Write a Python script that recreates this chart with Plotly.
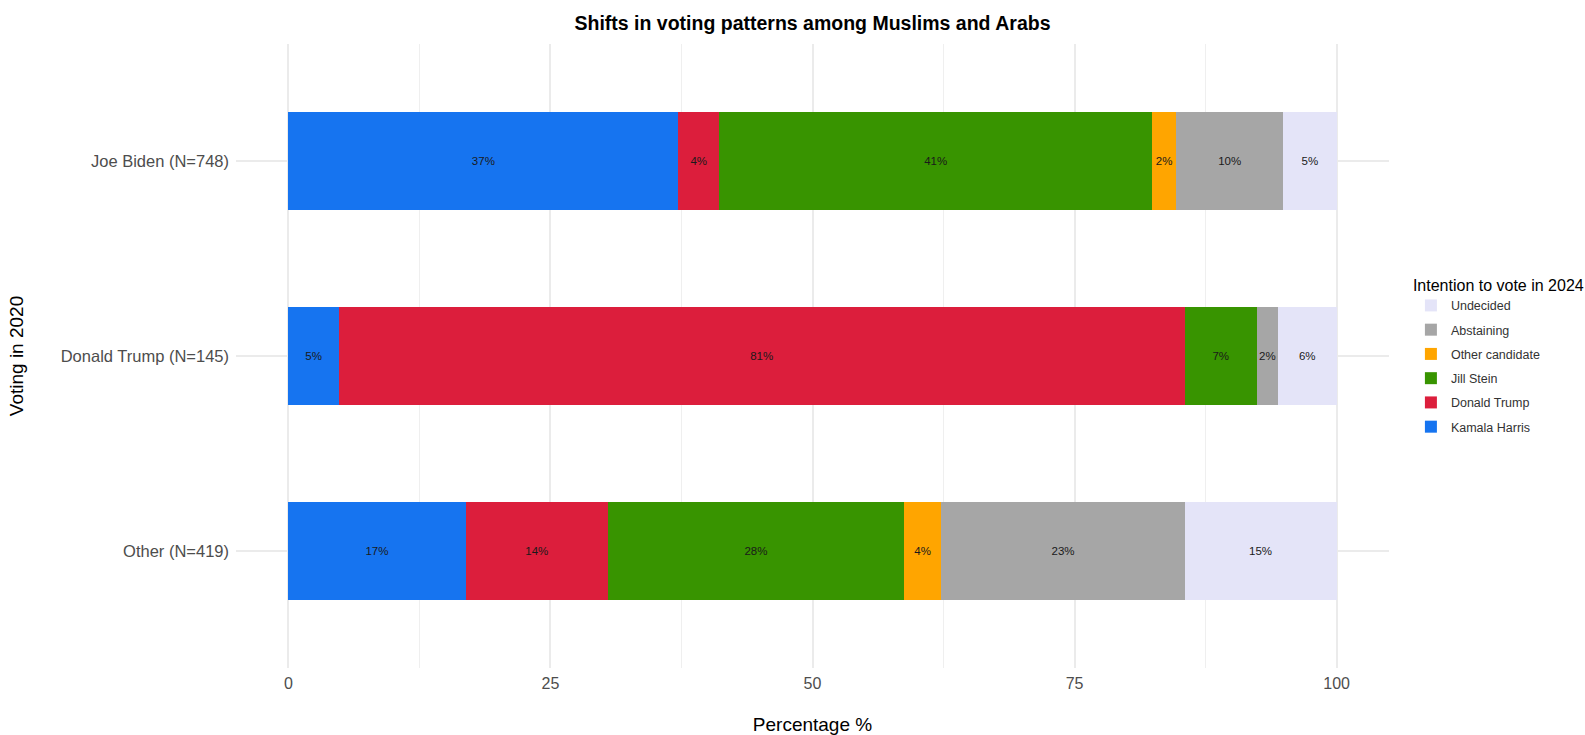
import plotly.graph_objects as go

# Vote in 2020 (rows, top to bottom)
categories = ["Joe Biden (N=748)", "Donald Trump (N=145)", "Other (N=419)"]

# Share (%) of each 2020 group by 2024 intention
kamala_harris = [37.2, 4.8, 16.9]
donald_trump = [3.9, 80.7, 13.6]
jill_stein = [41.3, 6.9, 28.2]
other_candidate = [2.3, None, 3.6]
abstaining = [10.2, 2.0, 23.2]
undecided = [5.1, 5.6, 14.5]

series_names = ["Kamala Harris", "Donald Trump", "Jill Stein",
                "Other candidate", "Abstaining", "Undecided"]
series_values = [kamala_harris, donald_trump, jill_stein,
                 other_candidate, abstaining, undecided]
series_colors = ["#1674F0", "#DC1E3C", "#389400", "#FFA500", "#A6A6A6", "#E4E4F8"]

x_ticks = [0, 25, 50, 75, 100]

FONT = "Liberation Sans, Arial, Helvetica, sans-serif"
FIG_H = 735

fig = go.Figure()
n_series = len(series_names)
for i, (name, vals, col) in enumerate(zip(series_names, series_values, series_colors)):
    fig.add_trace(go.Bar(
        y=categories,
        x=vals,
        name=name,
        orientation="h",
        width=0.5,
        marker=dict(color=col, line=dict(width=0)),
        texttemplate="%{x:.0f}%",
        textposition="inside",
        insidetextanchor="middle",
        textangle=0,
        constraintext="none",
        textfont=dict(family=FONT, size=11.5, color="#1a1a1a"),
        legendgroup=name,
        # last stacked segment listed first in the legend
        legendrank=n_series - i,
    ))

fig.update_layout(
    width=1585,
    height=FIG_H,
    barmode="stack",
    paper_bgcolor="white",
    plot_bgcolor="white",
    margin=dict(l=236, r=196, t=44, b=67, autoexpand=False),
    font=dict(family=FONT, color="#4d4d4d"),
    title=dict(
        text="<b>Shifts in voting patterns among Muslims and Arabs</b>",
        x=0.5, xref="paper", xanchor="center",
        y=1 - 23 / FIG_H, yref="container", yanchor="middle",
        font=dict(family=FONT, size=19.5, color="black"),
    ),
    xaxis=dict(
        range=[-5, 105],
        tickvals=x_ticks,
        ticktext=[str(t) for t in x_ticks],
        showgrid=True,
        gridcolor="#ebebeb",
        gridwidth=1.5,
        minor=dict(showgrid=True, gridcolor="#efefef", gridwidth=1, dtick=12.5, tick0=12.5),
        zeroline=False,
        showline=False,
        ticks="",
        tickfont=dict(family=FONT, size=16, color="#4d4d4d"),
        ticklabelstandoff=4,
        title=dict(text="Percentage %", font=dict(family=FONT, size=19, color="black"), standoff=26),
        automargin=False,
    ),
    yaxis=dict(
        categoryorder="array",
        categoryarray=categories,
        range=[2.6, -0.6],
        showgrid=True,
        gridcolor="#ebebeb",
        gridwidth=1.5,
        zeroline=False,
        showline=False,
        ticks="",
        tickfont=dict(family=FONT, size=16.5, color="#4d4d4d"),
        ticklabelstandoff=6,
        title=dict(text="Voting in 2020", font=dict(family=FONT, size=19, color="black"), standoff=32),
        automargin=False,
    ),
    legend=dict(
        title=dict(text="Intention to vote in 2024", font=dict(family=FONT, size=16, color="black")),
        traceorder="grouped",
        tracegroupgap=5,
        font=dict(family=FONT, size=12.5, color="#333333"),
        x=1.019, xanchor="left",
        y=0.5, yanchor="middle",
        bgcolor="rgba(0,0,0,0)",
    ),
    showlegend=True,
)

fig.write_html("out.html")
